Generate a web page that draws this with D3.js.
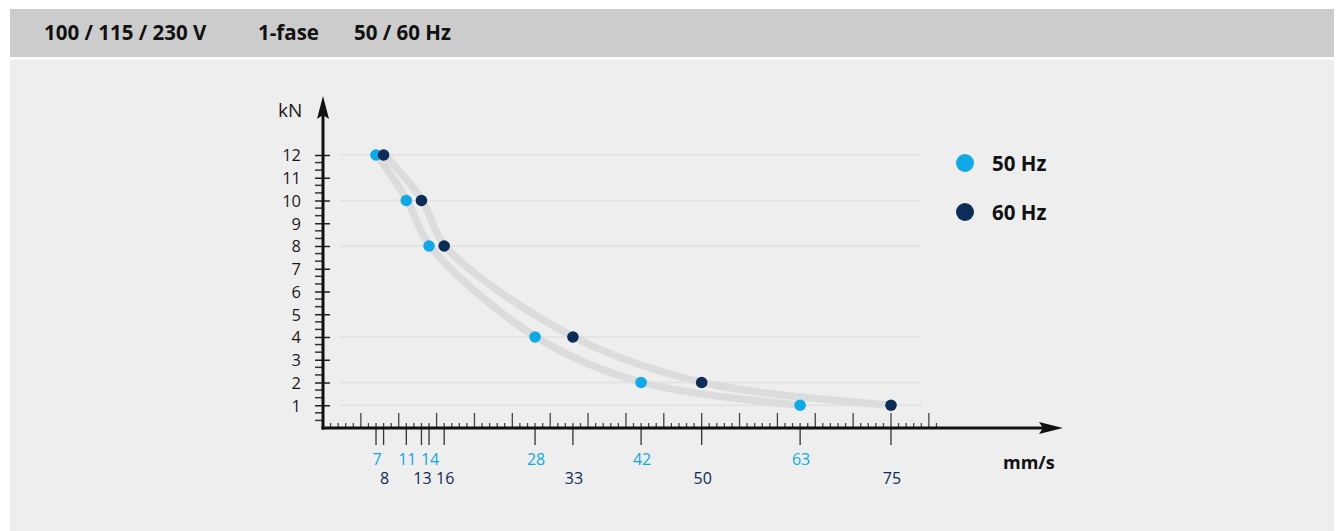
<!DOCTYPE html>
<html>
<head>
<meta charset="utf-8">
<script src="https://cdn.jsdelivr.net/npm/d3@7"></script>
<style>
  body { margin: 0; background: #fff; }
  svg { display: block; font-family: "Open Sans", "Noto Sans", sans-serif; }
</style>
</head>
<body>
<script>
// values
var header = ["100 / 115 / 230 V", "1-fase", "50 / 60 Hz"];
var force = [12, 10, 8, 4, 2, 1];          // kN
var speed50 = [7, 11, 14, 28, 42, 63];     // mm/s at 50 Hz
var speed60 = [8, 13, 16, 33, 50, 75];     // mm/s at 60 Hz
var yTicks = [1, 2, 3, 4, 5, 6, 7, 8, 9, 10, 11, 12];
var series = [
  {name: "50 Hz", speed: speed50, color: "#0fa9e8"},
  {name: "60 Hz", speed: speed60, color: "#0c2d57"}
];

var W = 1340, H = 531;
var svg = d3.select("body").append("svg")
  .attr("width", W).attr("height", H);

// backgrounds
svg.append("rect").attr("x", 10).attr("y", 9).attr("width", 1324).attr("height", 48).attr("fill", "#cccccc");
svg.append("rect").attr("x", 10).attr("y", 60).attr("width", 1324).attr("height", 471).attr("fill", "#eeeeee");

// header text
var hx = [44, 258, 354];
svg.selectAll(".hdr").data(header).enter().append("text")
  .attr("x", function(d, i){ return hx[i]; })
  .attr("y", 40)
  .attr("font-size", 20.5).attr("font-weight", 700).attr("fill", "#111")
  .text(function(d){ return d; });

var x = d3.scaleLinear().domain([0, 75]).range([323, 891]);
var y = d3.scaleLinear().domain([0, 12]).range([428, 155]);

// gridlines at the force levels
svg.selectAll(".grid").data(force).enter().append("line")
  .attr("x1", 340).attr("x2", 921)
  .attr("y1", function(d){ return y(d); }).attr("y2", function(d){ return y(d); })
  .attr("stroke", "#e0e0e0").attr("stroke-width", 1.5);

// curves
var line = d3.line()
  .x(function(d){ return x(d[0]) + 1; })
  .y(function(d){ return y(d[1]); })
  .curve(d3.curveCatmullRom.alpha(0.5));
series.forEach(function(s){
  svg.append("path")
    .datum(s.speed.map(function(v, i){ return [v, force[i]]; }))
    .attr("d", line)
    .attr("fill", "none").attr("stroke", "#dcdcdc").attr("stroke-width", 7.5)
    .attr("stroke-linecap", "round");
});

// x minor / major ticks
var xt = d3.range(1, 82);
svg.selectAll(".xt").data(xt).enter().append("line")
  .attr("x1", function(d){ return x(d); }).attr("x2", function(d){ return x(d); })
  .attr("y1", function(d){ return d % 5 === 0 ? y(0) - 15 : y(0) - 5; })
  .attr("y2", y(0))
  .attr("stroke", "#444").attr("stroke-width", 1.3);

// y minor ticks (thirds)
var ytm = d3.range(1, 36).filter(function(d){ return d % 3 !== 0; }).map(function(d){ return d / 3; });
svg.selectAll(".ytm").data(ytm).enter().append("line")
  .attr("x1", 315).attr("x2", 323)
  .attr("y1", function(d){ return y(d); }).attr("y2", function(d){ return y(d); })
  .attr("stroke", "#333").attr("stroke-width", 1.5);

// y axis with major ticks and labels
var yAxis = svg.append("g").attr("transform", "translate(323,0)")
  .call(d3.axisLeft(y).tickValues(yTicks).tickSize(8).tickPadding(14));
yAxis.select(".domain").remove();
yAxis.selectAll(".tick line").attr("x1", -8).attr("x2", 7).attr("stroke", "#222").attr("stroke-width", 1.5);
yAxis.selectAll(".tick text").attr("font-size", 16.5).attr("fill", "#1a1a1a")
  .attr("font-family", "'Open Sans', sans-serif").attr("dy", "0.35em");

// value ticks below the axis and their labels
series.forEach(function(s, si){
  svg.selectAll(".vt" + si).data(s.speed).enter().append("line")
    .attr("x1", function(d){ return x(d); }).attr("x2", function(d){ return x(d); })
    .attr("y1", y(0)).attr("y2", y(0) + 17)
    .attr("stroke", "#333").attr("stroke-width", 1.3);
  svg.selectAll(".vl" + si).data(s.speed).enter().append("text")
    .attr("x", function(d){ return x(d) + 1; })
    .attr("y", si === 0 ? 465 : 484)
    .attr("text-anchor", "middle").attr("font-size", 16).attr("fill", s.color)
    .text(function(d){ return d; });
});

// axis lines and arrows
svg.append("line").attr("x1", 323).attr("x2", 323).attr("y1", 112).attr("y2", y(0) + 1.5)
  .attr("stroke", "#111").attr("stroke-width", 3);
svg.append("line").attr("x1", 321.5).attr("x2", 1045).attr("y1", y(0)).attr("y2", y(0))
  .attr("stroke", "#111").attr("stroke-width", 3);
svg.append("path").attr("d", "M323,96 L317,119 L323,115 L329,119 Z").attr("fill", "#111");
svg.append("path").attr("d", "M1063,428 L1039,422 L1043,428 L1039,434 Z").attr("fill", "#111");

svg.append("text").attr("x", 278).attr("y", 117).attr("font-size", 19).attr("fill", "#1a1a1a").text("kN");
svg.append("text").attr("x", 1003).attr("y", 469).attr("font-size", 18).attr("font-weight", 700).attr("fill", "#111").text("mm/s");

// points
series.forEach(function(s, si){
  svg.selectAll(".pt" + si).data(s.speed).enter().append("circle")
    .attr("cx", function(d){ return x(d); })
    .attr("cy", function(d, i){ return y(force[i]); })
    .attr("r", 5.8).attr("fill", s.color);
});

// legend
var leg = svg.selectAll(".leg").data(series).enter().append("g")
  .attr("transform", function(d, i){ return "translate(965," + (163 + i * 49) + ")"; });
leg.append("circle").attr("r", 9).attr("fill", function(d){ return d.color; });
leg.append("text").attr("x", 27).attr("y", 7.5).attr("font-size", 20.5).attr("font-weight", 700)
  .attr("fill", "#111").text(function(d){ return d.name; });
</script>
</body>
</html>
